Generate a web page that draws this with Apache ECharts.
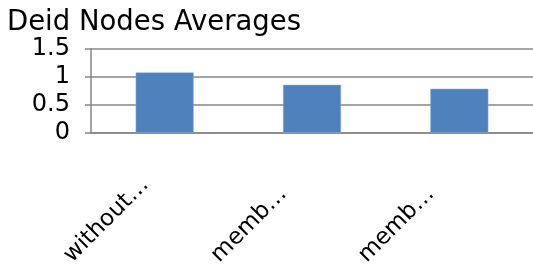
<!DOCTYPE html>
<html>
<head>
<meta charset="utf-8">
<script src="https://cdn.jsdelivr.net/npm/echarts@6/dist/echarts.min.js"></script>
<style>
html,body{margin:0;padding:0;background:#fff;}
#chart{width:533px;height:269px;}
</style>
</head>
<body>
<div id="chart"></div>
<script>
const titleText = "Deid Nodes Averages";
const categories = ["without…", "memb…", "memb…"];
const values = [1.08, 0.86, 0.79];
const yTicks = [0, 0.5, 1, 1.5];

const FONT = "DejaVu Sans";
const chart = echarts.init(document.getElementById('chart'), null, {renderer: 'canvas'});
chart.setOption({
  animation: false,
  backgroundColor: '#ffffff',
  title: {
    text: titleText,
    left: 7,
    top: 9,
    padding: 0,
    textStyle: {fontFamily: FONT, fontSize: 27.5, fontWeight: 'normal', color: '#000'}
  },
  grid: {left: 91, right: -10, top: 49, bottom: 135, containLabel: false},
  xAxis: {
    type: 'category',
    data: categories,
    axisLine: {show: true, lineStyle: {color: '#878787', width: 1.5}},
    axisTick: {show: false},
    axisLabel: {
      interval: 0,
      rotate: 45,
      margin: 29,
      fontFamily: FONT,
      fontSize: 23,
      color: '#000',
      formatter: v => '{a|' + v + '}',
      rich: {a: {width: 137, align: 'left', fontFamily: FONT, fontSize: 23, color: '#000'}}
    }
  },
  yAxis: {
    type: 'value',
    min: yTicks[0],
    max: yTicks[yTicks.length - 1],
    interval: 0.5,
    axisLine: {show: true, lineStyle: {color: '#878787', width: 1.5}},
    axisTick: {show: true, inside: false, length: 6, lineStyle: {color: '#878787', width: 1.5}},
    axisLabel: {margin: 21, fontFamily: FONT, fontSize: 24, color: '#000'},
    splitLine: {show: true, lineStyle: {color: '#878787', width: 1.5}}
  },
  series: [{
    type: 'bar',
    data: values,
    barWidth: 58,
    itemStyle: {color: '#4F81BD', borderColor: '#8fb0d8', borderWidth: 0.5}
  }]
});
</script>
</body>
</html>
